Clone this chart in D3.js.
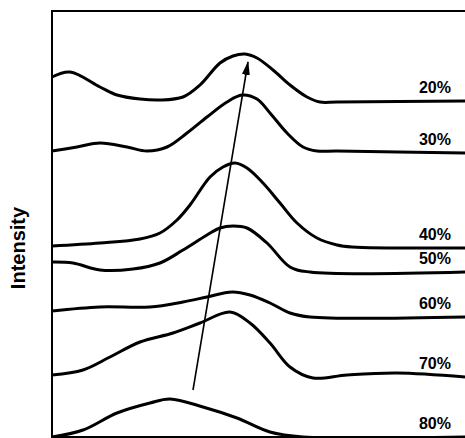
<!DOCTYPE html>
<html>
<head>
<meta charset="utf-8">
<script src="https://cdn.jsdelivr.net/npm/d3@7"></script>
<style>
  body { margin: 0; background: #fff; }
  text { font-family: "Liberation Sans", Arial, sans-serif; font-weight: bold; fill: #000; }
</style>
</head>
<body>
<div id="chart"></div>
<script>
// series labels, top to bottom
var labels = ["20%", "30%", "40%", "50%", "60%", "70%", "80%"]

// each spectrum as [position, intensity] points
var s20 = [[0,360],[18,365],[48,350],[65,342],[88,338],[108,337],[131,340],[148,352],[168,374],[181,381],[193,383],[205,379],[221,367],[238,352],[255,340],[268,335],[285,335],[413,336]]
var s30 = [[0,286],[25,290],[48,294],[75,290],[95,286],[115,290],[135,304],[155,320],[175,335],[190,342],[205,338],[218,324],[235,304],[251,290],[265,286],[285,286],[413,284]]
var s40 = [[0,191],[48,194],[88,198],[108,204],[125,217],[138,232],[158,260],[171,270],[183,274],[195,269],[211,254],[228,234],[245,214],[265,199],[285,192],[300,190],[413,189]]
var s50 = [[0,175],[21,174],[48,167],[81,168],[108,174],[131,187],[155,202],[168,209],[181,211],[195,209],[215,194],[238,170],[258,165],[413,165]]
var s60 = [[0,126],[48,130],[98,130],[131,135],[155,140],[180,145],[198,142],[218,134],[238,124],[258,120],[413,120]]
var s70 = [[0,62],[31,67],[58,80],[88,95],[121,104],[148,114],[178,125],[198,114],[218,94],[238,70],[261,59],[295,62],[345,64],[413,60]]
var s80 = [[0,0],[31,7],[65,24],[98,34],[118,38],[151,30],[185,19],[218,5],[251,0],[413,0]]
var series = [s20, s30, s40, s50, s60, s70, s80]

// shift arrow: start and tip
var arrowPts = [[141,47],[196,375]]

var width = 465, height = 438
var margin = {top: 11, right: 0, bottom: 1, left: 52}

var x = d3.scaleLinear().domain([0, 413]).range([margin.left, width - margin.right])
var y = d3.scaleLinear().domain([0, 426]).range([height - margin.bottom, margin.top])

var svg = d3.select("#chart").append("svg")
  .attr("width", width)
  .attr("height", height)

var defs = svg.append("defs")
defs.append("marker")
  .attr("id", "head")
  .attr("viewBox", "0 0 14 8")
  .attr("refX", 13)
  .attr("refY", 4)
  .attr("markerWidth", 14)
  .attr("markerHeight", 8)
  .attr("markerUnits", "userSpaceOnUse")
  .attr("orient", "auto")
  .append("path")
  .attr("d", "M0,0 L14,4 L0,8 Z")
  .attr("fill", "#000")

// frame: top, left, bottom
svg.append("path")
  .attr("d", "M" + width + "," + y(426) + " H" + x(0) + " V" + y(0) + " H" + width)
  .attr("fill", "none")
  .attr("stroke", "#000")
  .attr("stroke-width", 2)

var line = d3.line()
  .x(function(d){ return x(d[0]) })
  .y(function(d){ return y(d[1]) })
  .curve(d3.curveCatmullRom.alpha(0.5))

svg.selectAll(".spec")
  .data(series)
  .enter().append("path")
  .attr("class", "spec")
  .attr("d", line)
  .attr("fill", "none")
  .attr("stroke", "#000")
  .attr("stroke-width", 3)
  .attr("stroke-linejoin", "round")

svg.selectAll(".lab")
  .data(labels)
  .enter().append("text")
  .attr("class", "lab")
  .attr("x", x(399))
  .attr("y", function(d, i){ var s = series[i]; return y(s[s.length - 1][1]) - 8 })
  .attr("text-anchor", "end")
  .style("font-size", "16px")
  .text(function(d){ return d })

svg.append("line")
  .attr("x1", x(arrowPts[0][0]))
  .attr("y1", y(arrowPts[0][1]))
  .attr("x2", x(arrowPts[1][0]))
  .attr("y2", y(arrowPts[1][1]))
  .attr("stroke", "#000")
  .attr("stroke-width", 1.6)
  .attr("marker-end", "url(#head)")

svg.append("text")
  .attr("transform", "translate(25,248) rotate(-90)")
  .attr("text-anchor", "middle")
  .style("font-size", "20px")
  .text("Intensity")
</script>
</body>
</html>
